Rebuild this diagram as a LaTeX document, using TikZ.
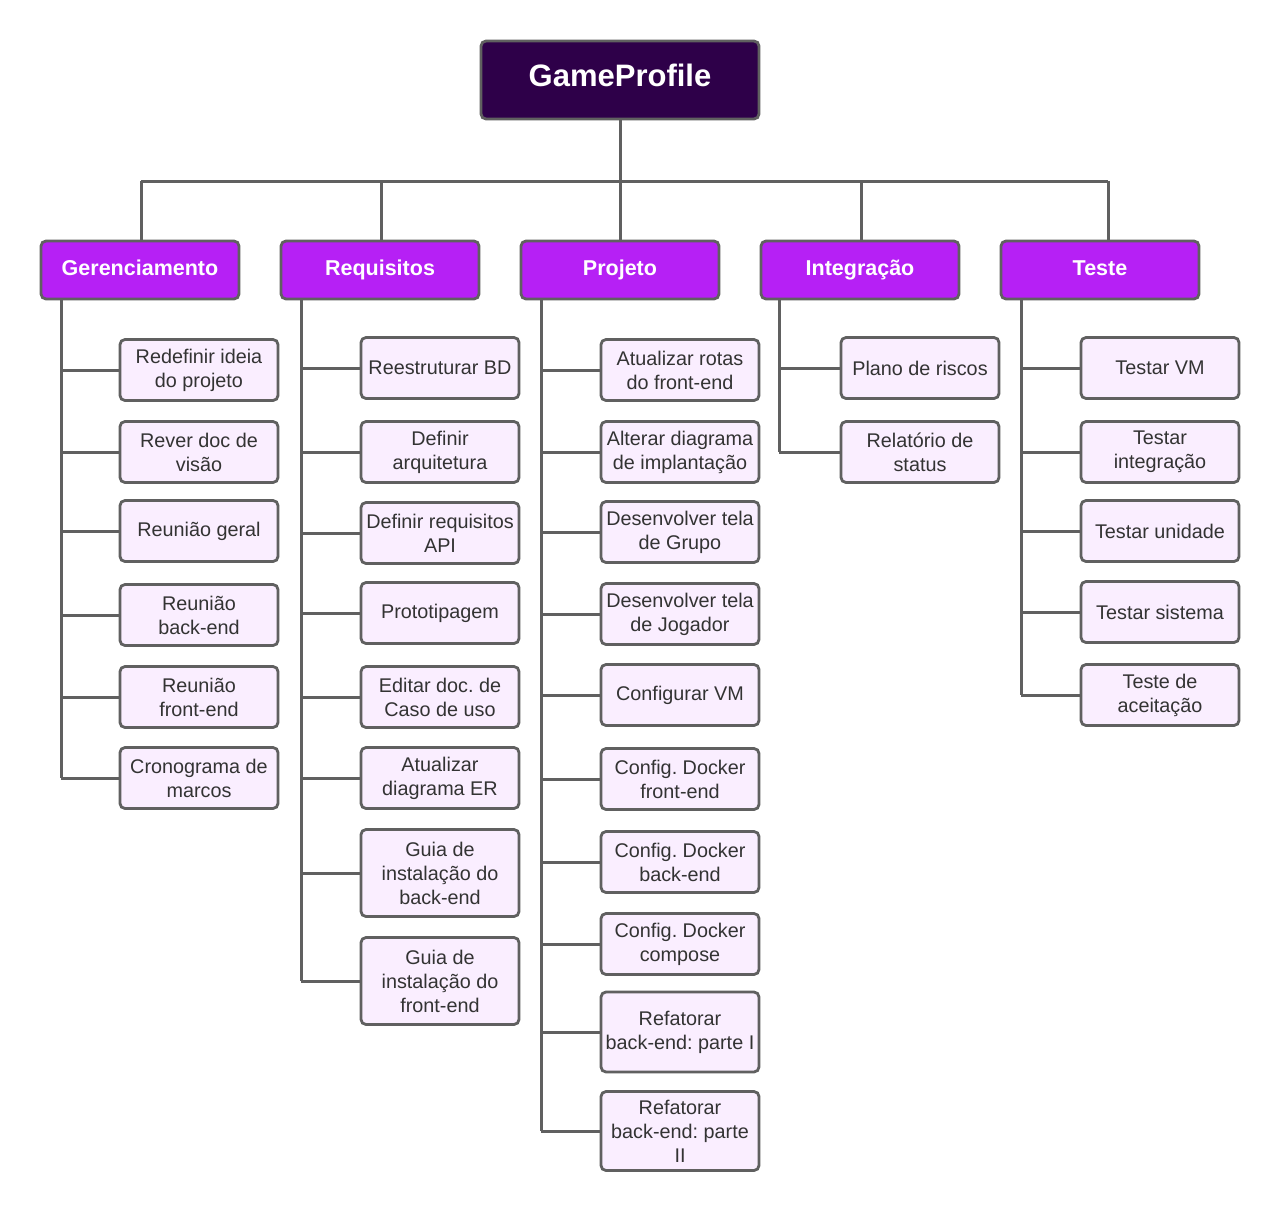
\documentclass[tikz,border=0pt]{standalone}
\usepackage{fontspec}
\setmainfont{Liberation Sans}
\definecolor{rootfill}{HTML}{2E0049}
\definecolor{catfill}{HTML}{B620F5}
\definecolor{leaffill}{HTML}{FAEEFF}
\definecolor{edge}{HTML}{606060}
\definecolor{leaftext}{HTML}{333333}
\begin{document}
\frenchspacing
\begin{tikzpicture}[x=1pt,y=-1pt,
  box/.style={draw=edge,line width=2.8pt,rounded corners=5pt,align=center,inner sep=1pt},
  rootbox/.style={box,fill=rootfill,text=white,minimum width=278pt,minimum height=78pt,text height=22pt,text depth=10pt,font=\fontsize{31}{36}\selectfont\bfseries},
  catbox/.style={box,fill=catfill,text=white,minimum width=198pt,minimum height=58pt,text height=16pt,text depth=6pt,font=\fontsize{21.5}{26}\selectfont\bfseries},
  leafbox/.style={box,fill=leaffill,text=leaftext,minimum width=158pt,minimum height=61pt,font=\fontsize{19.8}{24}\selectfont},
  conn/.style={draw=edge,line width=3pt}]
\useasboundingbox (0,0) rectangle (1280,1213);
\fill[white] (0,0) rectangle (1280,1213);

% root and categories
\node[rootbox] (root) at (620,80) {GameProfile};
\node[catbox] (G) at (140,270) {Gerenciamento};
\node[catbox] (R) at (380,270) {Requisitos};
\node[catbox] (P) at (620,270) {Projeto};
\node[catbox] (I) at (860,270) {Integração};
\node[catbox] (T) at (1100,270) {Teste};

\coordinate (busL) at (141,181);
\coordinate (busR) at (1108,181);
\coordinate (bG) at (141,181);
\coordinate (bR) at (381,181);
\coordinate (bI) at (861,181);
\coordinate (bT) at (1108,181);

% Gerenciamento leaves
\node[leafbox] (g1) at (199,370) {Redefinir ideia\\do projeto};
\node[leafbox] (g2) at (199,452) {Rever doc de\\visão};
\node[leafbox] (g3) at (199,531) {Reunião geral};
\node[leafbox] (g4) at (199,615) {Reunião\\back-end};
\node[leafbox] (g5) at (199,697) {Reunião\\front-end};
\node[leafbox] (g6) at (199,778) {Cronograma de\\marcos};

% Requisitos leaves
\node[leafbox] (r1) at (440,368) {Reestruturar BD};
\node[leafbox] (r2) at (440,452) {Definir\\arquitetura};
\node[leafbox] (r3) at (440,533) {Definir requisitos\\API};
\node[leafbox] (r4) at (440,613) {Prototipagem};
\node[leafbox] (r5) at (440,697) {Editar doc. de\\Caso de uso};
\node[leafbox] (r6) at (440,778) {Atualizar\\diagrama ER};
\node[leafbox,minimum height=87pt] (r7) at (440,873) {Guia de\\instalação do\\back-end};
\node[leafbox,minimum height=87pt] (r8) at (440,981) {Guia de\\instalação do\\front-end};

% Projeto leaves
\node[leafbox] (p1) at (680,370) {Atualizar rotas\\do front-end};
\node[leafbox] (p2) at (680,452) {Alterar diagrama\\de implantação};
\node[leafbox] (p3) at (680,532) {Desenvolver tela\\de Grupo};
\node[leafbox] (p4) at (680,614) {Desenvolver tela\\de Jogador};
\node[leafbox] (p5) at (680,695) {Configurar VM};
\node[leafbox] (p6) at (680,779) {Config. Docker\\front-end};
\node[leafbox] (p7) at (680,862) {Config. Docker\\back-end};
\node[leafbox] (p8) at (680,944) {Config. Docker\\compose};
\node[leafbox,minimum height=80pt] (p9) at (680,1032) {Refatorar\\back-end: parte I};
\node[leafbox,minimum height=79pt] (p10) at (680,1131) {Refatorar\\back-end: parte\\II};

% Integracao leaves
\node[leafbox] (i1) at (920,368) {Plano de riscos};
\node[leafbox] (i2) at (920,452) {Relatório de\\status};

% Teste leaves
\node[leafbox] (t1) at (1160,368) {Testar VM};
\node[leafbox] (t2) at (1160,452) {Testar\\integração};
\node[leafbox] (t3) at (1160,531) {Testar unidade};
\node[leafbox] (t4) at (1160,612) {Testar sistema};
\node[leafbox] (t5) at (1160,695) {Teste de\\aceitação};

% top connectors
\draw[conn] (root.south) -- (root.south |- busL);
\draw[conn] (busL) -- (busR);
\draw[conn] (bG) -- (bG |- G.north);
\draw[conn] (bR) -- (bR |- R.north);
\draw[conn] (root.south |- busL) -- (P.north);
\draw[conn] (bI) -- (bI |- I.north);
\draw[conn] (bT) -- (bT |- T.north);

% stems
\coordinate (sG) at (61,0);
\coordinate (sR) at (301,0);
\coordinate (sP) at (541,0);
\coordinate (sI) at (779,0);
\coordinate (sT) at (1021,0);

\draw[conn] (sG |- G.south) -- (sG |- g6.west);
\foreach \n in {g1,g2,g3,g4,g5,g6} \draw[conn] (sG |- \n.west) -- (\n.west);
\draw[conn] (sR |- R.south) -- (sR |- r8.west);
\foreach \n in {r1,r2,r3,r4,r5,r6,r7,r8} \draw[conn] (sR |- \n.west) -- (\n.west);
\draw[conn] (sP |- P.south) -- (sP |- p10.west);
\foreach \n in {p1,p2,p3,p4,p5,p6,p7,p8,p9,p10} \draw[conn] (sP |- \n.west) -- (\n.west);
\draw[conn] (sI |- I.south) -- (sI |- i2.west);
\foreach \n in {i1,i2} \draw[conn] (sI |- \n.west) -- (\n.west);
\draw[conn] (sT |- T.south) -- (sT |- t5.west);
\foreach \n in {t1,t2,t3,t4,t5} \draw[conn] (sT |- \n.west) -- (\n.west);
\end{tikzpicture}
\end{document}
